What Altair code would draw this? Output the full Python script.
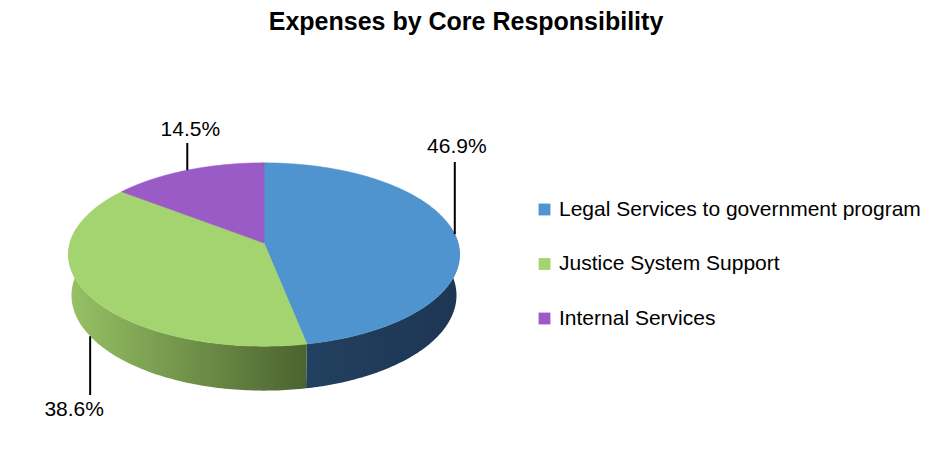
import numpy as np
import altair as alt

categories = ['Legal Services to government program', 'Justice System Support', 'Internal Services']
shares = [46.9, 38.6, 14.5]
pct_labels = ['46.9%', '38.6%', '14.5%']
top_colors = ['#4F93CF', '#A4D46F', '#9A5BC7']
side_shades = [['#22405F', '#1D3654'], ['#97C264', '#4B6330'], ['#7A4A9E', '#5E3A7A']]
title = 'Expenses by Core Responsibility'

# layout (pixels, relative to the pie centre)
apex = [256, 235]
leader_end = [-81, 152, -100]
label_dx = [2, -16, 3]
label_dy = [-15, 15, -13]

# tilted disc seen in perspective
tilt = np.radians(27.7)
dist = 7.05
focal = 1368.0
thick = 0.24


def project(theta, lift=0.0):
    depth = dist + np.cos(tilt) * np.cos(theta) - np.sin(tilt) * lift
    up = np.cos(tilt) * lift + np.sin(tilt) * np.cos(theta)
    return focal * np.sin(theta) / depth, -focal * up / depth


def pairs(xs, ys):
    return [[float(u), float(v)] for u, v in zip(xs, ys)]


edges = np.concatenate([[0.0], np.cumsum(shares)]) / 100 * 2 * np.pi

tops, sides, leaders, texts = [], [], [], []
for i, name in enumerate(categories):
    a, b = edges[i], edges[i + 1]
    t = np.linspace(a, b, 120)
    ring = [[0.0, 0.0]] + pairs(*project(t)) + [[0.0, 0.0]]
    tops.append({'type': 'Feature', 'properties': {'category': name},
                 'geometry': {'type': 'Polygon', 'coordinates': [ring]}})

    lo, hi = max(a, np.radians(80)), min(b, np.radians(280))
    if lo < hi:
        t = np.linspace(lo, hi, 120)
        pts = pairs(*project(t)) + pairs(*project(t[::-1], -thick))
        pts.append(pts[0])
        sides.append((i, {'type': 'Feature', 'properties': {'category': name},
                          'geometry': {'type': 'Polygon', 'coordinates': [pts]}}))

    mid = (a + b) / 2
    lift = -thick if np.cos(mid) < -0.2 else 0.0
    ax, ay = project(mid, lift)
    ax, ay = float(ax), float(ay)
    leaders.append({'type': 'Feature', 'properties': {},
                    'geometry': {'type': 'LineString',
                                 'coordinates': [[ax, ay], [ax, leader_end[i]]]}})
    texts.append({'lon': ax + label_dx[i], 'lat': leader_end[i] + label_dy[i],
                  'label': pct_labels[i]})

proj = dict(type='identity', scale=1, translate=apex)

layers = []
for i, feat in sides:
    layers.append(
        alt.Chart(alt.Data(values=[feat])).mark_geoshape(
            fill={'gradient': 'linear', 'x1': 0, 'x2': 1, 'y1': 0, 'y2': 0,
                  'stops': [{'offset': 0, 'color': side_shades[i][0]},
                            {'offset': 1, 'color': side_shades[i][1]}]},
            strokeWidth=0
        ).project(**proj)
    )

color_scale = alt.Scale(domain=categories, range=top_colors)
top = alt.Chart(alt.Data(values=tops)).mark_geoshape(strokeWidth=0.6).encode(
    fill=alt.Fill('properties.category:N', scale=color_scale, sort=categories,
                  legend=alt.Legend(orient='none', legendX=526, legendY=191, title=None,
                                    symbolType='square', symbolSize=140, symbolStrokeWidth=0,
                                    labelFont='Liberation Sans', labelFontSize=21,
                                    labelColor='black', labelOffset=4, rowPadding=32.5,
                                    labelLimit=500)),
    stroke=alt.Stroke('properties.category:N', scale=color_scale, legend=None)
).project(**proj)
layers.append(top)

lines = alt.Chart(alt.Data(values=leaders)).mark_geoshape(
    filled=False, stroke='black', strokeWidth=2
).project(**proj)
layers.append(lines)

pct = alt.Chart(alt.Data(values=texts)).mark_text(
    font='Liberation Sans', fontSize=21, color='black', baseline='middle', align='center'
).encode(longitude='lon:Q', latitude='lat:Q', text='label:N').project(**proj)
layers.append(pct)

head = alt.Chart(alt.Data(values=[{'t': title}])).mark_text(
    font='Liberation Sans', fontSize=25, fontWeight='bold', color='black',
    baseline='alphabetic', align='center'
).encode(text='t:N', x=alt.value(458), y=alt.value(22))
layers.append(head)

chart = alt.layer(*layers).properties(
    width=924, height=444, autosize='none', padding=0
).configure_view(stroke=None)

chart.save("out.html", embed_options={"renderer": "svg", "actions": False})
